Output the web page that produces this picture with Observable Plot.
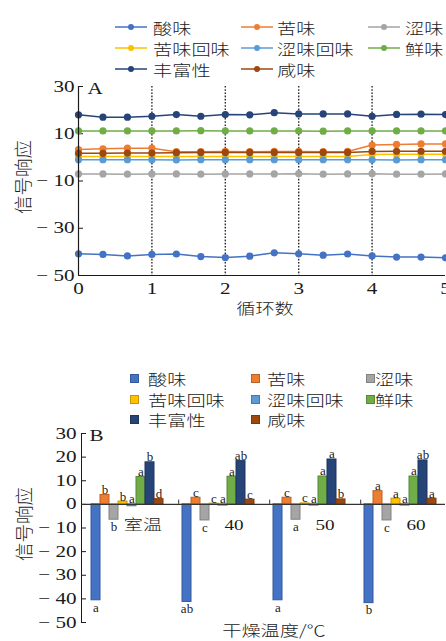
<!DOCTYPE html>
<html lang="zh">
<head>
<meta charset="utf-8">
<script src="https://cdn.jsdelivr.net/npm/d3@7"></script>
<script src="https://cdn.jsdelivr.net/npm/@observablehq/plot@0.6"></script>
<style>
html,body{margin:0;padding:0;background:#fff;}
#wrap{position:relative;width:446px;height:641px;overflow:hidden;color:#222;}
.abs{position:absolute;white-space:nowrap;}
.cjk{font-family:"Noto Sans CJK SC",sans-serif;font-weight:300;font-size:15px;line-height:1;transform:translateY(-50%) scaleX(1.28);transform-origin:0 50%;}
.ctitle{font-family:"Noto Sans CJK SC",sans-serif;font-weight:300;font-size:15px;line-height:1;transform:translate(-50%,-50%) scaleX(1.28);transform-origin:50% 50%;}
.ylab{font-family:"Noto Sans CJK SC",sans-serif;font-weight:300;font-size:18.5px;line-height:1;transform:translate(-50%,-50%) rotate(-90deg);transform-origin:50% 50%;}
#chartA,#chartB{position:absolute;left:0;}
#chartA{top:75px;}
#chartB{top:425px;}
</style>
</head>
<body>
<div id="wrap">
  <div id="chartA"></div>
  <div id="chartB"></div>
</div>
<script>
// ---------- data ----------
const tastes = ["酸味", "苦味", "涩味", "苦味回味", "涩味回味", "鲜味", "丰富性", "咸味"];
const colors = ["#4472C4", "#ED7D31", "#A5A5A5", "#FFC000", "#5B9BD5", "#70AD47", "#264478", "#9E480E"];

// Panel A: 16 measurements over 5 cycles
const cycles = [0, 1/3, 2/3, 1, 4/3, 5/3, 2, 7/3, 8/3, 3, 10/3, 11/3, 4, 13/3, 14/3, 5];
const sourA        = [-40.8, -41.1, -41.7, -41.1, -40.9, -42.0, -42.4, -41.8, -40.4, -40.8, -41.4, -40.9, -41.7, -42.2, -42.2, -42.5];
const bitterA      = [3.3, 3.6, 3.9, 3.9, 2.4, 2.4, 2.5, 2.4, 2.5, 2.5, 2.4, 2.5, 5.2, 5.5, 5.7, 5.7];
const astringentA  = [-7.0, -7.0, -7.1, -7.0, -7.0, -7.1, -7.0, -7.0, -7.0, -6.9, -7.1, -7.0, -6.9, -7.1, -7.1, -7.0];
const aftertasteBA = [0.4, 0.4, 0.4, 0.4, 0.4, 0.4, 0.4, 0.4, 0.4, 0.4, 0.4, 0.4, 1.2, 1.3, 1.3, 1.3];
const aftertasteAA = [-1.0, -1.0, -1.0, -1.0, -1.1, -1.0, -1.0, -1.0, -1.0, -1.0, -1.0, -1.0, -1.0, -1.1, -1.0, -1.0];
const umamiA       = [11.2, 11.2, 11.2, 11.2, 11.2, 11.3, 11.2, 11.2, 11.2, 11.2, 11.1, 11.2, 11.2, 11.2, 11.2, 11.2];
const richnessA    = [18.0, 17.0, 17.0, 17.4, 18.1, 17.4, 18.1, 18.0, 18.9, 18.4, 18.4, 18.4, 17.4, 18.2, 18.3, 18.1];
const saltyA       = [1.7, 1.7, 1.8, 1.8, 2.0, 2.1, 2.1, 2.1, 2.1, 2.1, 2.1, 2.1, 2.5, 2.6, 2.6, 2.6];
const seriesA = [sourA, bitterA, astringentA, aftertasteBA, aftertasteAA, umamiA, richnessA, saltyA];
const xTicksA = [0, 1, 2, 3, 4, 5];
const yTicksA = [30, 10, -10, -30, -50];
const dividerCycles = [1, 2, 3, 4];

// Panel B: drying temperature groups
const groups = ["室温", "40", "50", "60"];
const roomTemp = [-40.6, 4.0, -6.5, 1.2, -0.8, 11.6, 17.8, 2.2];
const temp40   = [-41.3, 2.8, -6.8, 0.3, -0.5, 11.7, 18.3, 2.0];
const temp50   = [-40.6, 2.8, -6.5, 0.4, -0.5, 11.8, 19.0, 2.1];
const temp60   = [-41.8, 5.6, -6.8, 2.4, -0.5, 11.8, 18.6, 2.4];
const lettersRoom = ["a", "b", "b", "b", "a", "a", "b", "d"];
const letters40   = ["ab", "c", "c", "c", "a", "a", "ab", "c"];
const letters50   = ["a", "c", "a", "c", "a", "a", "a", "b"];
const letters60   = ["b", "a", "c", "a", "a", "a", "ab", "a"];
const yTicksB = [30, 20, 10, 0, -10, -20, -30, -40, -50];

// ---------- helpers ----------
const groupValues = [roomTemp, temp40, temp50, temp60];
const groupLetters = [lettersRoom, letters40, letters50, letters60];
const edgeOf = c => d3.color(c).darker(0.7).formatHex();
const fmt = d => d < 0 ? `\u2212 ${-d}` : `${d}`;
const serif = "'Liberation Serif', 'Noto Sans CJK SC', serif";
const STRETCH = 1.32;

function stretchText(svg, k) {
  for (const t of svg.querySelectorAll("text")) {
    const fs = parseFloat(getComputedStyle(t).fontSize);
    if (fs <= 13.5) continue;
    const tr = t.getAttribute("transform");
    if (tr) t.setAttribute("transform", `${tr} scale(${k},1)`);
    else {
      const x = parseFloat(t.getAttribute("x")) || 0;
      t.setAttribute("transform", `translate(${x},0) scale(${k},1) translate(${-x},0)`);
    }
  }
}

const wrap = document.getElementById("wrap");
function addDiv(cls, text, left, top, extra = "") {
  const d = document.createElement("div");
  d.className = "abs " + cls;
  d.textContent = text;
  d.style.cssText += `left:${left}px;top:${top}px;${extra}`;
  wrap.appendChild(d);
  return d;
}

// ---------- legend A ----------
const legARows = [27, 48, 68.5], legASym = [115, 241, 368], legAText = [153, 277, 405];
tastes.forEach((t, i) => {
  const r = Math.floor(i / 3), c = i % 3;
  const s = document.createElementNS("http://www.w3.org/2000/svg", "svg");
  s.setAttribute("width", 32); s.setAttribute("height", 12);
  s.style.cssText = `position:absolute;left:${legASym[c]}px;top:${legARows[r] - 6}px;`;
  s.innerHTML = `<line x1="0" x2="32" y1="6" y2="6" stroke="${colors[i]}" stroke-width="1.5"/><circle cx="16" cy="6" r="3" fill="${colors[i]}"/>`;
  wrap.appendChild(s);
  addDiv("cjk", t, legAText[c], legARows[r]);
});

// ---------- legend B ----------
const legBRows = [378, 398.5, 419], legBSym = [130, 251, 366], legBText = [148, 267, 375];
tastes.forEach((t, i) => {
  const r = Math.floor(i / 3), c = i % 3;
  const sq = document.createElement("div");
  sq.style.cssText = `position:absolute;left:${legBSym[c]}px;top:${legBRows[r] - 4}px;width:7px;height:7px;background:${colors[i]};border:1px solid ${edgeOf(colors[i])};`;
  wrap.appendChild(sq);
  addDiv("cjk", t, legBText[c], legBRows[r]);
});

// ---------- chart A ----------
const lineRows = tastes.map((t, i) => cycles.map((c, j) => ({taste: t, cycle: c, value: seriesA[i][j], col: colors[i]})));
const plotA = Plot.plot({
  width: 446, height: 245, marginTop: 11, marginBottom: 45, marginLeft: 78, marginRight: 1,
  style: {fontFamily: serif, fontSize: "16px", color: "#1a1a1a", background: "transparent", overflow: "visible"},
  x: {domain: [0, 5], ticks: xTicksA, tickSize: 0, tickPadding: 7, tickFormat: d => `${d}`, label: null},
  y: {domain: [-50, 30], ticks: yTicksA, tickSize: -5, tickPadding: 9, tickFormat: fmt, label: null},
  color: {type: "identity"},
  marks: [
    Plot.ruleX(dividerCycles, {stroke: "#2a2a2a", strokeWidth: 1.4, strokeDasharray: "1.6 1.6"}),
    ...lineRows.flatMap(rows => [
      Plot.line(rows, {x: "cycle", y: "value", stroke: "col", strokeWidth: 1.5}),
      Plot.dot(rows, {x: "cycle", y: "value", fill: "col", r: 3.6})
    ]),
    Plot.ruleX([0], {stroke: "#1a1a1a", strokeWidth: 1.2}),
    Plot.ruleY([-50], {stroke: "#1a1a1a", strokeWidth: 1.2}),
    Plot.text(["A"], {text: d => d, frameAnchor: "top-left", dx: 9, dy: 2, lineAnchor: "middle", textAnchor: "start", fontSize: 16})
  ]
});
document.getElementById("chartA").appendChild(plotA);
stretchText(plotA, STRETCH);

// ---------- chart B ----------
const barRows = groups.flatMap((g, gi) => tastes.map((t, ti) => ({
  group: g, taste: t, value: groupValues[gi][ti], letter: groupLetters[gi][ti], col: colors[ti], edge: edgeOf(colors[ti])
})));
const plotB = Plot.plot({
  width: 446, height: 207, marginTop: 8, marginBottom: 10, marginLeft: 80, marginRight: 0,
  style: {fontFamily: serif, fontSize: "16px", color: "#1a1a1a", background: "transparent", overflow: "visible"},
  fx: {domain: groups, padding: 0, axis: null, label: null},
  x: {domain: tastes, paddingInner: 0, paddingOuter: 0.6, axis: null},
  y: {domain: [-50, 30], ticks: yTicksB, tickSize: -5, tickPadding: 10, tickFormat: fmt, label: null, line: true},
  color: {type: "identity"},
  marks: [
    Plot.barY(barRows, {fx: "group", x: "taste", y: "value", fill: "col", stroke: "edge", strokeWidth: 1}),
    Plot.ruleY([0], {stroke: "#333", strokeWidth: 1.2}),
    Plot.ruleX(groups.slice(1), {fx: d => d, x: () => tastes[0], y1: 0, y2: 1.8, dx: -8.3, stroke: "#333"}),
    Plot.text(barRows.filter(d => d.value > -2), {fx: "group", x: "taste", y: d => Math.max(d.value, 0), text: "letter", lineAnchor: "bottom", dy: -1, fontSize: 13}),
    Plot.text(barRows.filter(d => d.value <= -2), {fx: "group", x: "taste", y: "value", text: "letter", lineAnchor: "top", dy: 2, fontSize: 13}),
    Plot.text(groups, {fx: d => d, x: () => tastes[5], y: () => 0, text: d => d, dy: 21, dx: 2, lineAnchor: "middle", fontSize: 14.5, fontWeight: 300}),
    Plot.text(["B"], {fx: () => groups[0], text: d => d, frameAnchor: "top-left", dx: 8, dy: 2, lineAnchor: "middle", textAnchor: "start", fontSize: 16})
  ]
});
document.getElementById("chartB").appendChild(plotB);
stretchText(plotB, STRETCH);

// ---------- axis titles ----------
addDiv("ylab", "信号响应", 22, 177);
addDiv("ctitle", "循环数", 265, 307);
addDiv("ylab", "信号响应", 23, 524);
addDiv("ctitle", "干燥温度/℃", 274, 629);
</script>
</body>
</html>
